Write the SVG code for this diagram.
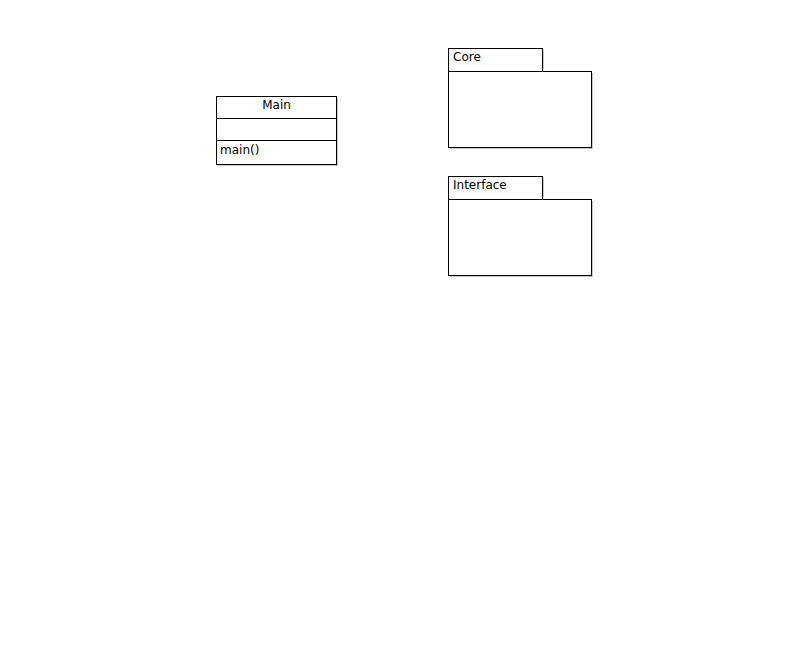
<svg xmlns="http://www.w3.org/2000/svg" width="808" height="660" viewBox="0 0 808 660">
<style>
.b{fill:#fff;stroke:#000;stroke-width:1}
.s{fill:#c8c8c8}
.t{font-family:"DejaVu Sans",sans-serif;font-size:12px;fill:#000}
</style>
<rect width="808" height="660" fill="#fff"/>
<g id="Main">
<rect class="s" x="218" y="98" width="120" height="68"/>
<rect class="b" x="216.5" y="96.5" width="120" height="68"/>
<line x1="216.5" y1="118.5" x2="336.5" y2="118.5" stroke="#000"/>
<line x1="216.5" y1="140.5" x2="336.5" y2="140.5" stroke="#000"/>
<text class="t" x="276.5" y="109" text-anchor="middle">Main</text>
<text class="t" x="220" y="154">main()</text>
</g>
<g id="Core">
<rect class="s" x="450" y="50" width="94" height="23"/>
<rect class="s" x="450" y="73" width="143" height="76"/>
<rect class="b" x="448.5" y="48.5" width="94" height="23"/>
<rect class="b" x="448.5" y="71.5" width="143" height="76"/>
<text class="t" x="453" y="61">Core</text>
</g>
<g id="Interface">
<rect class="s" x="450" y="178" width="94" height="23"/>
<rect class="s" x="450" y="201" width="143" height="76"/>
<rect class="b" x="448.5" y="176.5" width="94" height="23"/>
<rect class="b" x="448.5" y="199.5" width="143" height="76"/>
<text class="t" x="453" y="189">Interface</text>
</g>
<g id="connectors"></g>
</svg>
